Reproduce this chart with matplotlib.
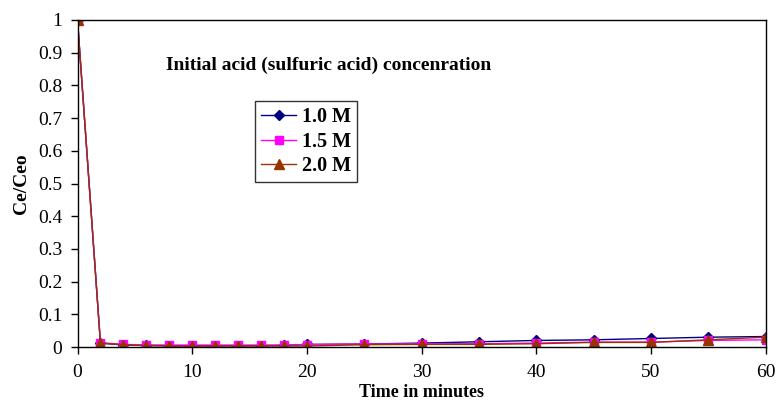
import matplotlib
matplotlib.use("Agg")
import matplotlib.pyplot as plt

times = [0, 2, 4, 6, 8, 10, 12, 14, 16, 18, 20, 25, 30, 35, 40, 45, 50, 55, 60]
c_10 = [1.0, 0.012, 0.006, 0.005, 0.004, 0.004, 0.004, 0.004, 0.004, 0.005, 0.008, 0.009, 0.012, 0.016, 0.020, 0.022, 0.026, 0.030, 0.032]
c_15 = [1.0, 0.013, 0.008, 0.006, 0.006, 0.006, 0.006, 0.006, 0.006, 0.006, 0.007, 0.009, 0.010, 0.010, 0.012, 0.015, 0.015, 0.020, 0.022]
c_20 = [1.0, 0.012, 0.007, 0.004, 0.003, 0.002, 0.003, 0.003, 0.003, 0.003, 0.003, 0.007, 0.008, 0.008, 0.010, 0.014, 0.014, 0.022, 0.030]
labels = ["1.0 M", "1.5 M", "2.0 M"]

plt.rcParams['font.family'] = ['Liberation Serif', 'DejaVu Serif']

fig = plt.figure(figsize=(7.77, 4.0), dpi=100)
ax = fig.add_axes([77.5/777, 53/400, 688/777, 327/400])

ax.plot(times, c_10, color='#000080', marker='D', markersize=5, lw=1.0, label=labels[0])
ax.plot(times, c_15, color='#FF00FF', marker='s', markersize=5.5, lw=1.0, label=labels[1])
ax.plot(times, c_20, color='#993300', marker='^', markersize=6.5, lw=1.0, label=labels[2])

ax.set_xlim(0, 60)
ax.set_ylim(0, 1)
ax.set_xticks(range(0, 61, 10))
ax.set_yticks([i/10 for i in range(11)])
ax.set_yticklabels(['0', '0.1', '0.2', '0.3', '0.4', '0.5', '0.6', '0.7', '0.8', '0.9', '1'])
ax.tick_params(direction='out', length=5, width=1, labelsize=14, color='black')
ax.tick_params(axis='y', pad=6)
ax.tick_params(axis='x', pad=7)
for s in ax.spines.values():
    s.set_color('black')
    s.set_linewidth(1)

ax.set_xlabel('Time in minutes', fontsize=13, fontweight='bold')
ax.xaxis.set_label_coords(0.5, -0.112)
ax.set_ylabel('Ce/Ceo', fontsize=14, fontweight='bold', labelpad=6)

ax.text(0.129, 0.862, 'Initial acid (sulfuric acid) concenration', transform=ax.transAxes,
        fontsize=14, fontweight='bold', va='center', ha='left')

leg = ax.legend(loc='upper left', bbox_to_anchor=(0.258, 0.752), frameon=True, fancybox=False,
                edgecolor='black', prop={'weight': 'bold', 'size': 14.5}, handlelength=1.75,
                borderpad=0.3, labelspacing=0.22, handletextpad=0.3, borderaxespad=0)
leg.get_frame().set_linewidth(1)

fig.savefig('out.png', dpi=100)
